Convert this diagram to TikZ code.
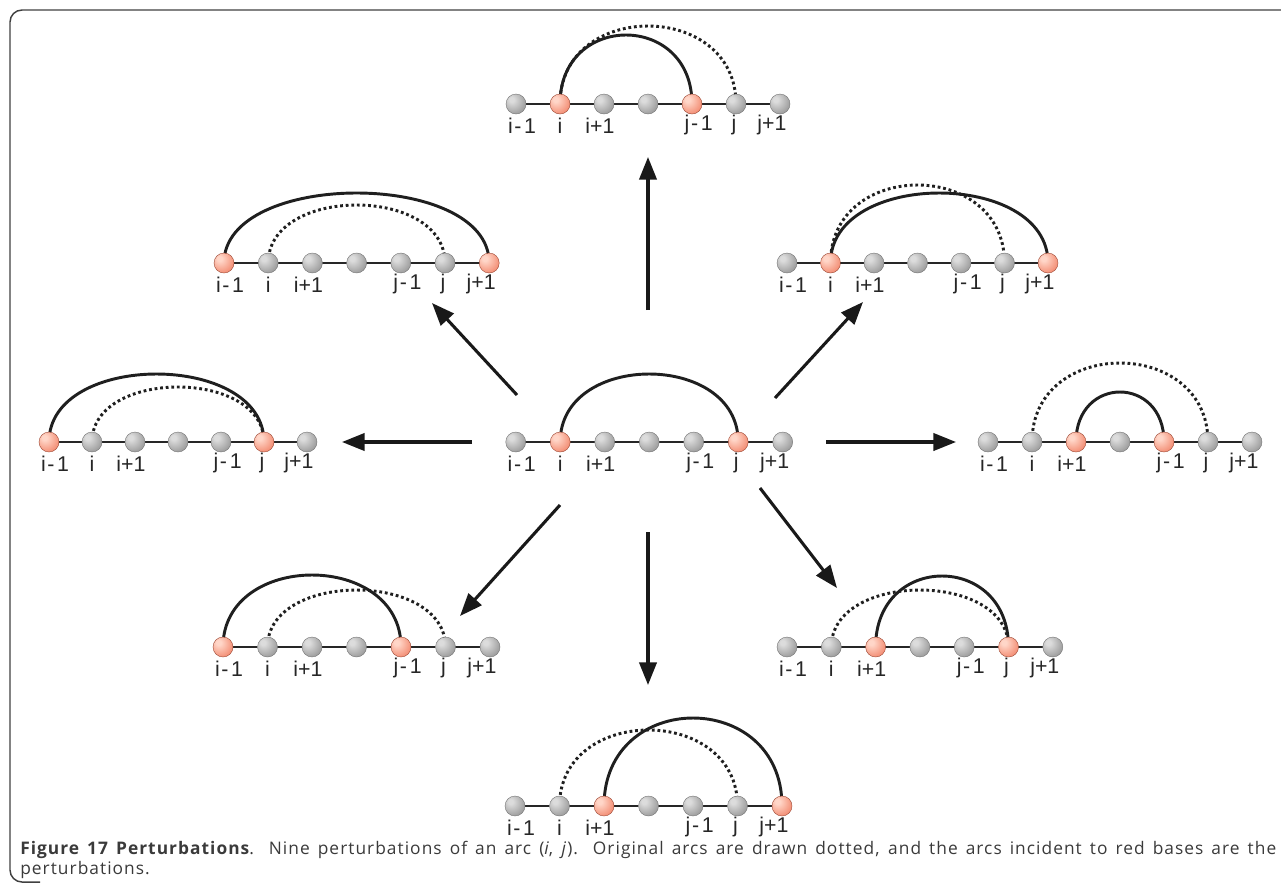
\documentclass[tikz,border=0pt]{standalone}
\usepackage{fontspec}
\setmainfont{Liberation Sans}
\newfontfamily\capfont[LetterSpace=6]{Open Sans}
\usetikzlibrary{arrows.meta}
\definecolor{gHi}{HTML}{DCDCDC}
\definecolor{gMid}{HTML}{999999}
\definecolor{gEdge}{HTML}{5E5E5E}
\definecolor{rHi}{HTML}{FFD6C8}
\definecolor{rMid}{HTML}{F28A70}
\definecolor{rEdge}{HTML}{C0583E}
\definecolor{capgray}{HTML}{3A3A3A}
\pgfdeclareradialshading{gball}{\pgfpoint{-12bp}{12bp}}{color(0bp)=(gHi); color(6bp)=(gHi); color(34bp)=(gMid); color(56bp)=(gEdge); color(75bp)=(gEdge)}
\pgfdeclareradialshading{rball}{\pgfpoint{-12bp}{12bp}}{color(0bp)=(rHi); color(6bp)=(rHi); color(34bp)=(rMid); color(56bp)=(rEdge); color(75bp)=(rEdge)}
\tikzset{
  backbone/.style={line width=2pt, black!85},
  solidarc/.style={line width=2.2pt, black!88},
  dotarc/.style={line width=2.2pt, black!88, dash pattern=on 2.1pt off 2.1pt},
  greybead/.style={circle, minimum size=15pt, inner sep=0pt, shading=gball, draw=black!55, line width=0.3pt},
  redbead/.style={circle, minimum size=15pt, inner sep=0pt, shading=rball, draw=rEdge!80!black, line width=0.3pt},
  lab/.style={font=\fontsize{16pt}{17pt}\selectfont, text=black!85, inner sep=0pt, anchor=center},
  arr/.style={line width=2.3pt, black!90, -{Triangle[length=17pt,width=13pt]}},
  frame/.style={line width=1.1pt, black!75, rounded corners=9pt}
}
\makeatletter
\newcommand\chaincoords[4]{%
  \foreach \k in {1,...,7}{\coordinate (#1c\k) at ({#2+(\k-1)*#3},#4);}%
  \draw[backbone] (#1c1) -- (#1c7);%
}
\newcommand\chainbeads[2]{%
  \foreach \k in {1,...,7}{%
    \edef\my@tmp{\noexpand\in@{,\k,}{,#2,}}\my@tmp
    \ifin@\node[redbead] (#1b\k) at (#1c\k) {};\else\node[greybead] (#1b\k) at (#1c\k) {};\fi
  }%
  \node[lab, xshift=4.5pt, yshift=-16pt] (#1l1) at (#1c1) {i\kern1.2pt-\kern2pt1};%
  \node[lab, yshift=-16pt] (#1l2) at (#1c2) {i};%
  \node[lab, xshift=-3pt, yshift=-16pt] (#1l3) at (#1c3) {i+1};%
  \node[lab, xshift=5pt, yshift=-16pt] (#1l5) at (#1c5) {j\kern1.2pt-\kern2pt1};%
  \node[lab, xshift=-1.5pt, yshift=-16pt] (#1l6) at (#1c6) {j};%
  \node[lab, xshift=-6pt, yshift=-16pt] (#1l7) at (#1c7) {j+1};%
}
\makeatother
\newcommand\parc[4]{\draw[#1] (#2) .. controls +(0,-#4*1.3333) and +(0,-#4*1.3333) .. (#3);}
\begin{document}
\begin{tikzpicture}[x=0.75pt,y=-0.75pt]
\useasboundingbox (0,0) rectangle (1281,883);
% frame
\draw[frame] (1290,10) -- (10,10) -- (10,882) -- (40,882);
% centre
\chaincoords{c}{515.7}{44.5}{442}
\parc{solidarc}{cc2}{cc6}{68}
\chainbeads{c}{2,6}
% top
\chaincoords{t}{516}{44}{104}
\parc{dotarc}{tc2}{tc6}{78}
\parc{solidarc}{tc2}{tc5}{69}
\chainbeads{t}{2,5}
% upper left
\chaincoords{ul}{224}{44.2}{263}
\parc{solidarc}{ulc1}{ulc7}{70}
\parc{dotarc}{ulc2}{ulc6}{58}
\chainbeads{ul}{1,7}
% upper right
\chaincoords{ur}{787}{43.5}{263}
\parc{dotarc}{urc2}{urc6}{78}
\parc{solidarc}{urc2}{urc7}{70}
\chainbeads{ur}{2,7}
% left
\chaincoords{l}{49}{43}{442}
\parc{solidarc}{lc1}{lc6}{68}
\parc{dotarc}{lc2}{lc6}{55}
\chainbeads{l}{1,6}
% right
\chaincoords{r}{988}{44}{442}
\parc{dotarc}{rc2}{rc6}{79}
\parc{solidarc}{rc3}{rc5}{50}
\chainbeads{r}{3,5}
% lower left
\chaincoords{ll}{223}{44.5}{647}
\parc{solidarc}{llc1}{llc5}{72}
\parc{dotarc}{llc2}{llc6}{57}
\chainbeads{ll}{1,5}
% lower right
\chaincoords{lr}{787}{44.3}{647}
\parc{dotarc}{lrc2}{lrc6}{57}
\parc{solidarc}{lrc3}{lrc6}{71}
\chainbeads{lr}{3,6}
% bottom
\chaincoords{b}{515}{44.5}{806}
\parc{dotarc}{bc2}{bc6}{76}
\parc{solidarc}{bc3}{bc7}{88}
\chainbeads{b}{3,7}
% arrows
\coordinate (aU1) at (648,310);  \coordinate (aU2) at (648,157);
\coordinate (aUL1) at (517,395); \coordinate (aUL2) at (432,303);
\coordinate (aUR1) at (775,398); \coordinate (aUR2) at (863,302);
\coordinate (aL1) at (472,442);  \coordinate (aL2) at (342,442);
\coordinate (aR1) at (826,442);  \coordinate (aR2) at (956,442);
\coordinate (aDL1) at (560,505); \coordinate (aDL2) at (460,616);
\coordinate (aD1) at (648,532);  \coordinate (aD2) at (648,685);
\coordinate (aDR1) at (760,488); \coordinate (aDR2) at (837,588);
\draw[arr] (aU1) -- (aU2);
\draw[arr] (aUL1) -- (aUL2);
\draw[arr] (aUR1) -- (aUR2);
\draw[arr] (aL1) -- (aL2);
\draw[arr] (aR1) -- (aR2);
\draw[arr] (aDL1) -- (aDL2);
\draw[arr] (aD1) -- (aD2);
\draw[arr] (aDR1) -- (aDR2);
% caption
\node[anchor=north west, inner sep=0pt, text width=942pt, align=justify, text=capgray,
      font=\capfont\fontsize{13pt}{15pt}\selectfont] (cap) at (20,841)
  {\textbf{Figure 17 Perturbations}. Nine perturbations of an arc (\textit{i}, \textit{j}). Original arcs are drawn dotted, and the arcs incident to red bases are the perturbations.};
\end{tikzpicture}
\end{document}
